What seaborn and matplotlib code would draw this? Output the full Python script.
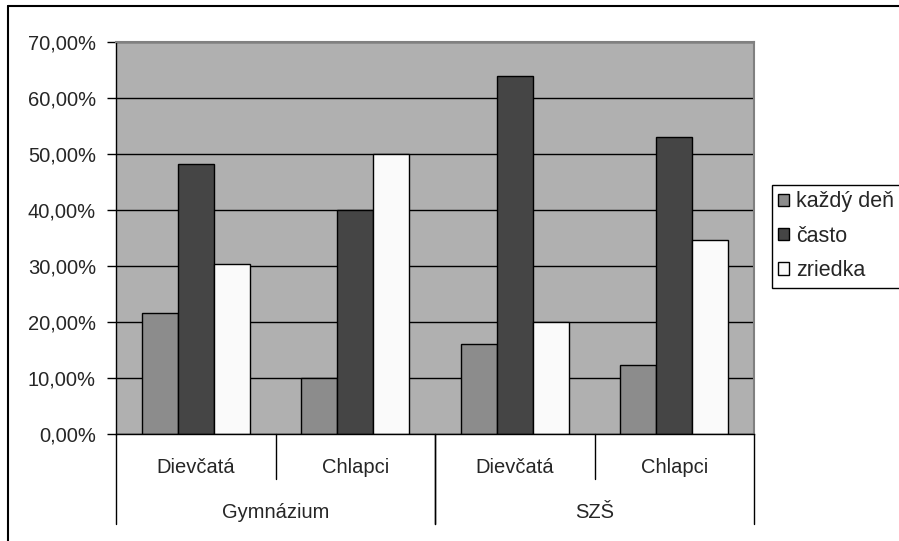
import matplotlib
matplotlib.use('Agg')
import matplotlib.pyplot as plt
import matplotlib.ticker as mticker
from matplotlib.lines import Line2D
import pandas as pd
import seaborn as sns

# data
schools = ['Gymnázium', 'Gymnázium', 'SZŠ', 'SZŠ']
genders = ['Dievčatá', 'Chlapci', 'Dievčatá', 'Chlapci']
kazdy_den = [0.2155, 0.10, 0.1607, 0.1227]
casto = [0.482, 0.40, 0.639, 0.531]
zriedka = [0.303, 0.50, 0.2005, 0.347]
series_names = ['každý deň', 'často', 'zriedka']
colors = ['#8C8C8C', '#454545', '#FAFAFA']


def build_frame():
    rows = []
    for i, (s, g) in enumerate(zip(schools, genders)):
        for name, vals in zip(series_names, [kazdy_den, casto, zriedka]):
            rows.append({'group': f'{s} {g} {i}', 'freq': name, 'value': vals[i]})
    return pd.DataFrame(rows)


def main():
    df = build_frame()
    sns.set_style('white')
    plt.rcParams['font.family'] = ['Liberation Sans', 'DejaVu Sans']

    fig = plt.figure(figsize=(8.99, 5.41), dpi=100)
    ax = fig.add_axes([116 / 899, (541 - 434) / 541, (754 - 116) / 899, (434 - 42) / 541])

    sns.barplot(data=df, x='group', y='value', hue='freq', palette=colors,
                width=0.677, edgecolor='black', linewidth=1, saturation=1,
                ax=ax, legend=True)

    ax.set_facecolor('#B0B0B0')
    ax.set_ylim(0, 0.70)
    ax.set_xlim(-0.5, len(genders) - 0.5)
    ax.yaxis.set_major_locator(mticker.MultipleLocator(0.1))
    ax.yaxis.set_major_formatter(mticker.FuncFormatter(
        lambda v, p: f'{v * 100:.2f}%'.replace('.', ',')))
    ax.grid(axis='y', color='black', linewidth=1)
    ax.set_axisbelow(True)
    ax.tick_params(axis='y', left=True, length=6.5, width=1, color='black',
                   pad=8, labelsize=14.5)
    ax.tick_params(axis='x', bottom=False, labelbottom=False)
    ax.set_xlabel('')
    ax.set_ylabel('')
    for side in ['left', 'bottom']:
        ax.spines[side].set_color('black')
        ax.spines[side].set_linewidth(1)
    for side in ['top', 'right']:
        ax.spines[side].set_color('#808080')
        ax.spines[side].set_linewidth(1.5)

    # hierarchical category axis
    trans = ax.get_xaxis_transform()
    for i, g in enumerate(genders):
        ax.text(i, -0.086, g, transform=trans, ha='center', va='center', fontsize=14.5)
    for i in range(1, len(genders)):
        if schools[i] == schools[i - 1]:
            ax.plot([i - 0.5, i - 0.5], [0, -0.115], transform=trans, color='black',
                    lw=1, clip_on=False)
    starts = [0] + [i for i in range(1, len(schools)) if schools[i] != schools[i - 1]]
    ends = starts[1:] + [len(schools)]
    for a, b in zip(starts, ends):
        ax.text((a + b - 1) / 2, -0.199, schools[a], transform=trans,
                ha='center', va='center', fontsize=14.5)
        for x in (a - 0.5, b - 0.5):
            ax.plot([x, x], [0, -0.23], transform=trans, color='black',
                    lw=1, clip_on=False)

    handles, labels = ax.get_legend_handles_labels()
    ax.get_legend().remove()
    leg = fig.legend(handles, labels, loc='upper left',
                     bbox_to_anchor=(772 / 899, 1 - 185 / 541),
                     fontsize=15.5, frameon=True, fancybox=False, framealpha=1,
                     edgecolor='black', handlelength=0.5, handleheight=0.5,
                     handletextpad=0.3, labelspacing=0.62, borderpad=0.3,
                     borderaxespad=0)
    leg.get_frame().set_linewidth(1)

    # chart frame: only left and top edges are visible in the crop
    fl, ft = 8 / 899, 1 - 6 / 541
    fig.add_artist(Line2D([fl, fl], [0, ft], transform=fig.transFigure, color='black', lw=1.5))
    fig.add_artist(Line2D([fl, 1], [ft, ft], transform=fig.transFigure, color='black', lw=1.5))

    fig.savefig('out.png', dpi=100)


if __name__ == '__main__':
    main()
